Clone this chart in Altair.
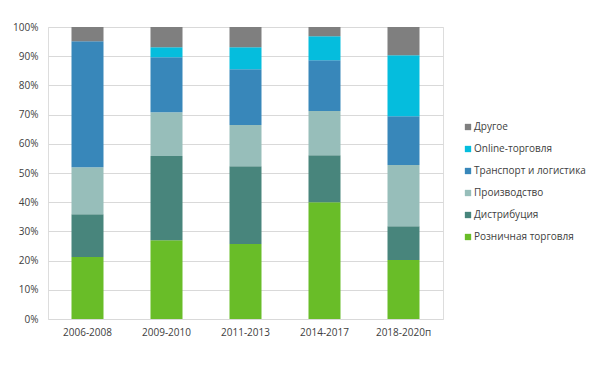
import altair as alt
import pandas as pd

periods = ["2006-2008", "2009-2010", "2011-2013", "2014-2017", "2018-2020п"]
segments = ["Розничная торговля", "Дистрибуция", "Производство",
            "Транспорт и логистика", "Online-торговля", "Другое"]
retail = [21.2, 27.0, 25.7, 40.0, 20.2]
distribution = [14.7, 28.8, 26.6, 16.1, 11.6]
production = [16.1, 15.0, 14.1, 15.1, 20.9]
transport = [43.1, 18.8, 19.1, 17.4, 16.7]
online = [0.0, 3.5, 7.6, 8.2, 20.9]
other = [4.9, 6.9, 6.9, 3.2, 9.7]

colors = ["#69BD28", "#48857C", "#97BEBA", "#3887BA", "#05BDDD", "#7F7F7F"]

series = [retail, distribution, production, transport, online, other]
rows = []
for si, (seg, vals) in enumerate(zip(segments, series)):
    for p, v in zip(periods, vals):
        rows.append({"period": p, "segment": seg, "value": v / 100.0, "order": si})
df = pd.DataFrame(rows)

legend_order = list(reversed(segments))
legend_colors = list(reversed(colors))

font = "Open Sans"

chart = alt.Chart(df).mark_bar(size=32).encode(
    x=alt.X("period:N", sort=periods, title=None,
            axis=alt.Axis(labelAngle=0, ticks=False, domain=False, labelPadding=8,
                          labelFontSize=10, labelColor="#404040", labelFont=font)),
    y=alt.Y("value:Q", stack="zero", title=None,
            scale=alt.Scale(domain=[0, 1], nice=False),
            axis=alt.Axis(format=".0%", values=[i / 10 for i in range(11)],
                          ticks=False, domain=False, labelPadding=10,
                          labelFontSize=10, labelColor="#404040", labelFont=font,
                          gridColor="#D9D9D9", gridWidth=1)),
    color=alt.Color("segment:N", sort=legend_order,
                    scale=alt.Scale(domain=legend_order, range=legend_colors),
                    legend=alt.Legend(title=None, orient="none", legendX=415, legendY=95,
                                      symbolType="square", symbolSize=40,
                                      symbolStrokeWidth=0, labelFontSize=10,
                                      labelColor="#404040", labelFont=font,
                                      rowPadding=12, labelOffset=1)),
    order=alt.Order("order:Q", sort="ascending"),
).properties(
    width=395, height=292,
    autosize=alt.AutoSizeParams(type="none"),
    padding={"left": 40, "top": 19, "right": 148, "bottom": 39},
).configure_view(stroke=None).configure(background="white")

chart.save("out.html", embed_options={"renderer": "svg", "actions": False})
